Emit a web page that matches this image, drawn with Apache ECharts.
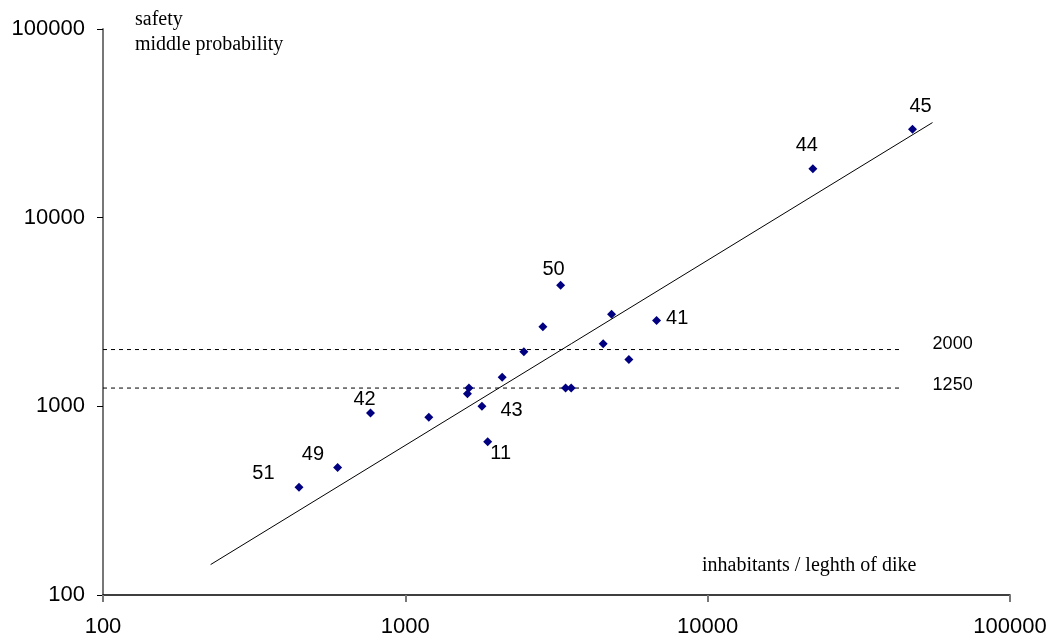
<!DOCTYPE html>
<html>
<head>
<meta charset="utf-8">
<script src="https://cdn.jsdelivr.net/npm/echarts@6/dist/echarts.min.js"></script>
<style>
  html, body { margin: 0; padding: 0; background: #fff; }
  #chart { width: 1053px; height: 644px; }
</style>
</head>
<body>
<div id="chart"></div>
<script>
// inhabitants / length of dike (x) vs safety (y)
var inhabitants = [445, 597, 767, 1196, 1623, 1605, 1792, 2091, 1872, 2467,
                   2851, 3263, 3389, 3537, 4810, 4512, 5488, 6776, 22280, 47600];
var safety      = [373, 474, 922, 874, 1250, 1167, 1000, 1424, 650, 1948,
                   2641, 4384, 1250, 1250, 3077, 2146, 1773, 2851, 18160, 29450];
var pointNames  = ['51', '49', '42', '', '', '', '43', '', '11', '',
                   '', '50', '', '', '', '', '', '41', '44', '45'];

// power trend line, endpoints
var trendX = [227, 55420];
var trendY = [145, 31920];

// norm lines
var normValues = [2000, 1250];
var normStartX = 100;
var normEndX = 43800;

var xTicks = [100, 1000, 10000, 100000];
var yTicks = [100, 1000, 10000, 100000];

// label placement for the numbered points
var labelPlace = {
    '51': {position: 'left', offset: [-15, -14]},
    '49': {position: 'left', offset: [-4, -13]},
    '42': {position: 'top', offset: [-6, 6]},
    '43': {position: 'right', offset: [9, 4]},
    '11': {position: 'bottom', offset: [13, -8]},
    '50': {position: 'top', offset: [-7, 4]},
    '41': {position: 'right', offset: [0, -2]},
    '44': {position: 'top', offset: [-6, -4]},
    '45': {position: 'top', offset: [8, -3]}
};

var sans = 'Liberation Sans, Arial, sans-serif';
var serif = '20px "Liberation Serif", "Times New Roman", serif';

var chart = echarts.init(document.getElementById('chart'));

var scatterData = [];
for (var i = 0; i < inhabitants.length; i++) {
    var item = {value: [inhabitants[i], safety[i]], name: pointNames[i]};
    if (pointNames[i] !== '') {
        var p = labelPlace[pointNames[i]];
        item.label = {show: true, position: p.position, offset: p.offset,
                      color: '#000', fontSize: 20, fontFamily: sans};
    }
    scatterData.push(item);
}

var trendData = [];
for (var j = 0; j < trendX.length; j++) {
    trendData.push([trendX[j], trendY[j]]);
}

var normSeries = normValues.map(function (v, k) {
    return {
        type: 'line',
        data: [[normStartX, v], [normEndX, v]],
        symbol: 'none',
        silent: true,
        lineStyle: {color: '#000', width: 1, type: [4, 4]},
        endLabel: {
            show: true,
            distance: 31,
            offset: [0, k === 0 ? -6 : -3],
            fontFamily: sans,
            fontSize: 18,
            color: '#000',
            formatter: String(v)
        },
        z: 1
    };
});

var option = {
    animation: false,
    backgroundColor: '#fff',
    grid: {left: 103, right: 43, top: 29, bottom: 49},
    xAxis: {
        type: 'log',
        logBase: 10,
        min: 100,
        max: 100000,
        axisLine: {show: true, lineStyle: {color: '#000', width: 1.5}},
        axisTick: {show: true, inside: false, length: 7, lineStyle: {color: '#777', width: 2}},
        axisLabel: {
            color: '#000', fontSize: 22, margin: 21, fontFamily: sans,
            formatter: function (v) { return xTicks.indexOf(Math.round(v)) >= 0 ? String(Math.round(v)) : ''; }
        },
        splitLine: {show: false}
    },
    yAxis: {
        type: 'log',
        logBase: 10,
        min: 100,
        max: 100000,
        axisLine: {show: true, lineStyle: {color: '#777', width: 2}},
        axisTick: {show: true, inside: false, length: 6, lineStyle: {color: '#000', width: 1}},
        axisLabel: {
            color: '#000', fontSize: 22, margin: 18, fontFamily: sans,
            formatter: function (v) { return yTicks.indexOf(Math.round(v)) >= 0 ? String(Math.round(v)) : ''; }
        },
        splitLine: {show: false}
    },
    graphic: [
        {type: 'text', left: 135, top: 10,
         style: {text: 'safety', fill: '#000', font: serif}},
        {type: 'text', left: 135, top: 35,
         style: {text: 'middle probability', fill: '#000', font: serif}},
        {type: 'text', left: 702, top: 556,
         style: {text: 'inhabitants / leghth of dike', fill: '#000', font: serif}}
    ],
    series: normSeries.concat([
        {
            type: 'line',
            data: trendData,
            symbol: 'none',
            silent: true,
            lineStyle: {color: '#000', width: 1},
            z: 2
        },
        {
            type: 'scatter',
            data: scatterData,
            symbol: 'diamond',
            symbolSize: 9,
            itemStyle: {color: '#000080', opacity: 1},
            label: {show: false, formatter: '{b}', color: '#000', fontSize: 20, fontFamily: sans},
            z: 3
        }
    ])
};

chart.setOption(option);
</script>
</body>
</html>
